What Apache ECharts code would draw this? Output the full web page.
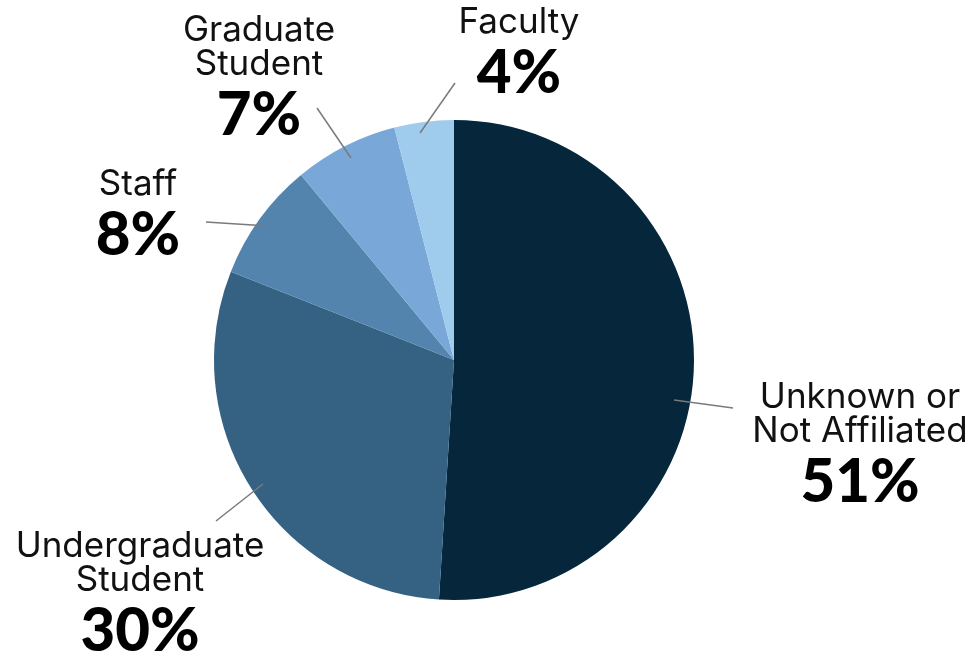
<!DOCTYPE html>
<html>
<head>
<meta charset="utf-8">
<style>
  html, body { margin: 0; padding: 0; background: #fff; }
  #chart { width: 980px; height: 660px; }
</style>
<script src="https://cdn.jsdelivr.net/npm/echarts@6/dist/echarts.min.js"></script>
</head>
<body>
<div id="chart"></div>
<script>
// Affiliation breakdown (percent of total)
const categories = ['Unknown or Not Affiliated', 'Undergraduate Student', 'Staff', 'Graduate Student', 'Faculty'];
const labelNames = [['Unknown or', 'Not Affiliated'], ['Undergraduate', 'Student'], ['Staff'], ['Graduate', 'Student'], ['Faculty']];
const values = [51, 30, 8, 7, 4];
const colors = ['#05263b', '#356283', '#5284ae', '#79a8d8', '#9fcbec'];

// Where each label block sits and where its leader line runs
const labelSpots = [
  { cx: 860, cy: 449, line: [[674, 400], [733, 408]] },
  { cx: 140, cy: 598, line: [[263, 484], [216, 521]] },
  { cx: 138, cy: 219, line: [[268, 226], [206, 222]] },
  { cx: 259, cy: 82,  line: [[351, 158], [317, 108]] },
  { cx: 519, cy: 57,  line: [[420, 133], [455, 83]] }
];

const chart = echarts.init(document.getElementById('chart'), null, { renderer: 'canvas' });

const center = [454, 360];
const radius = 240;

const sliceData = categories.map((name, i) => ({
  name,
  value: values[i],
  itemStyle: { color: colors[i] }
}));

// Same slices again, transparent and stacked higher, so the labels and
// leader lines are painted above the coloured fills
const labelData = categories.map((name, i) => ({
  name,
  value: values[i],
  itemStyle: { color: 'rgba(0,0,0,0)' }
}));

chart.setOption({
  animation: false,
  series: [
    {
      type: 'pie',
      z: 2,
      center,
      radius,
      startAngle: 90,
      clockwise: true,
      itemStyle: { borderWidth: 0 },
      label: { show: false },
      labelLine: { show: false },
      emphasis: { disabled: true },
      data: sliceData
    },
    {
      type: 'pie',
      z: 5,
      center,
      radius,
      startAngle: 90,
      clockwise: true,
      avoidLabelOverlap: false,
      silent: true,
      itemStyle: { borderWidth: 0 },
      data: labelData,
      label: {
        show: true,
        position: 'outside',
        formatter: (p) => {
          const names = labelNames[p.dataIndex].map(t => '{n|' + t + '}').join('\n');
          return names + '\n{v|' + p.value + '%}';
        },
        rich: {
          n: { fontFamily: 'Inter, "Noto Sans", sans-serif', fontSize: 35, fontWeight: 400, color: '#111', lineHeight: 34, align: 'center' },
          v: { fontFamily: 'Lato, "Noto Sans", sans-serif', fontSize: 60, fontWeight: 900, color: '#000', lineHeight: 70, align: 'center' }
        }
      },
      labelLine: {
        show: true,
        lineStyle: { color: '#7a7a7a', width: 1.5 }
      },
      labelLayout: (params) => {
        const s = labelSpots[params.dataIndex];
        return {
          x: s.cx,
          y: s.cy,
          align: 'center',
          verticalAlign: 'middle',
          labelLinePoints: [s.line[0], s.line[1], s.line[1]]
        };
      },
      emphasis: { disabled: true }
    }
  ]
});
</script>
</body>
</html>
